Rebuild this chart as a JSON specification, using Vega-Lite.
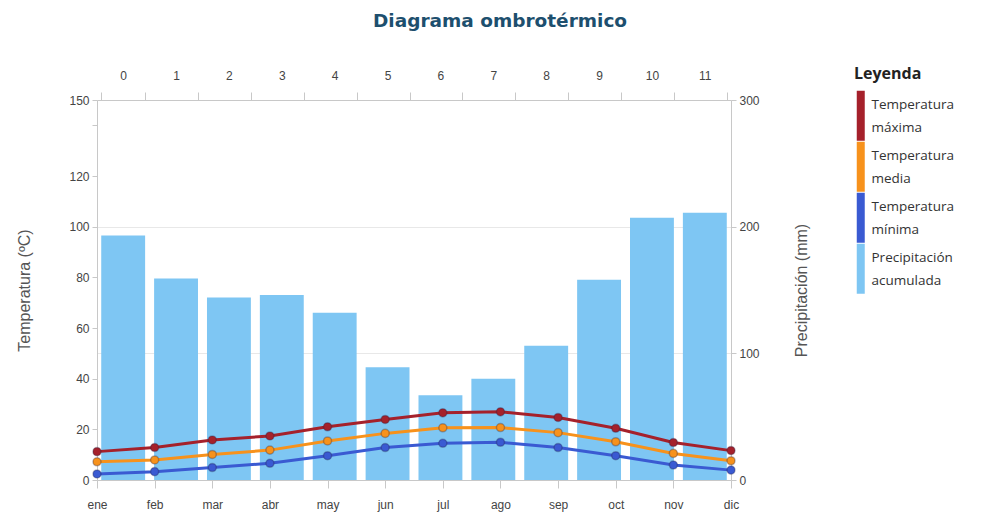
{
  "$schema": "https://vega.github.io/schema/vega-lite/v6.json",
  "autosize": {"type": "none"},
  "padding": {"left": 97, "top": 100, "right": 269, "bottom": 48},
  "width": 634,
  "height": 380,
  "background": "white",
  "title": {
    "text": "Diagrama ombrotérmico",
    "font": "DejaVu Sans",
    "fontSize": 18.5,
    "fontWeight": "bold",
    "color": "#1d4f6e",
    "anchor": "middle",
    "frame": "group",
    "dx": 86,
    "offset": 36
  },
  "datasets": {
    "prec": [
      {"idx": 0, "prec": 193},
      {"idx": 1, "prec": 159},
      {"idx": 2, "prec": 144},
      {"idx": 3, "prec": 146},
      {"idx": 4, "prec": 132},
      {"idx": 5, "prec": 89},
      {"idx": 6, "prec": 67},
      {"idx": 7, "prec": 80},
      {"idx": 8, "prec": 106},
      {"idx": 9, "prec": 158},
      {"idx": 10, "prec": 207},
      {"idx": 11, "prec": 211}
    ],
    "temps": [
      {"mes": "ene", "serie": "Temperatura máxima", "valor": 11.2},
      {"mes": "feb", "serie": "Temperatura máxima", "valor": 12.8},
      {"mes": "mar", "serie": "Temperatura máxima", "valor": 15.8},
      {"mes": "abr", "serie": "Temperatura máxima", "valor": 17.4},
      {"mes": "may", "serie": "Temperatura máxima", "valor": 21.0},
      {"mes": "jun", "serie": "Temperatura máxima", "valor": 23.9},
      {"mes": "jul", "serie": "Temperatura máxima", "valor": 26.5},
      {"mes": "ago", "serie": "Temperatura máxima", "valor": 26.9},
      {"mes": "sep", "serie": "Temperatura máxima", "valor": 24.7},
      {"mes": "oct", "serie": "Temperatura máxima", "valor": 20.4},
      {"mes": "nov", "serie": "Temperatura máxima", "valor": 14.8},
      {"mes": "dic", "serie": "Temperatura máxima", "valor": 11.6},
      {"mes": "ene", "serie": "Temperatura media", "valor": 7.2},
      {"mes": "feb", "serie": "Temperatura media", "valor": 7.9},
      {"mes": "mar", "serie": "Temperatura media", "valor": 10.1},
      {"mes": "abr", "serie": "Temperatura media", "valor": 11.8},
      {"mes": "may", "serie": "Temperatura media", "valor": 15.4},
      {"mes": "jun", "serie": "Temperatura media", "valor": 18.4},
      {"mes": "jul", "serie": "Temperatura media", "valor": 20.6},
      {"mes": "ago", "serie": "Temperatura media", "valor": 20.7},
      {"mes": "sep", "serie": "Temperatura media", "valor": 18.7},
      {"mes": "oct", "serie": "Temperatura media", "valor": 15.1},
      {"mes": "nov", "serie": "Temperatura media", "valor": 10.5},
      {"mes": "dic", "serie": "Temperatura media", "valor": 7.6},
      {"mes": "ene", "serie": "Temperatura mínima", "valor": 2.4},
      {"mes": "feb", "serie": "Temperatura mínima", "valor": 3.3},
      {"mes": "mar", "serie": "Temperatura mínima", "valor": 4.9},
      {"mes": "abr", "serie": "Temperatura mínima", "valor": 6.6},
      {"mes": "may", "serie": "Temperatura mínima", "valor": 9.6},
      {"mes": "jun", "serie": "Temperatura mínima", "valor": 12.8},
      {"mes": "jul", "serie": "Temperatura mínima", "valor": 14.5},
      {"mes": "ago", "serie": "Temperatura mínima", "valor": 14.9},
      {"mes": "sep", "serie": "Temperatura mínima", "valor": 12.8},
      {"mes": "oct", "serie": "Temperatura mínima", "valor": 9.6},
      {"mes": "nov", "serie": "Temperatura mínima", "valor": 5.9},
      {"mes": "dic", "serie": "Temperatura mínima", "valor": 3.9}
    ]
  },
  "config": {
    "view": {"stroke": null},
    "axis": {
      "labelFont": "Liberation Sans",
      "labelFontSize": 12,
      "labelColor": "#444444",
      "titleFont": "Liberation Sans",
      "titleFontSize": 16,
      "titleFontWeight": "normal",
      "titleColor": "#555555",
      "domainColor": "#c8c8c8",
      "tickColor": "#c8c8c8",
      "gridColor": "#e8e8e8"
    }
  },
  "layer": [
    {
      "data": {"name": "prec"},
      "mark": {"type": "bar"},
      "encoding": {
        "x": {
          "field": "idx",
          "type": "ordinal",
          "scale": {"paddingInner": 0.17, "paddingOuter": 0.08},
          "axis": {"orient": "top", "title": null, "labelAngle": 0, "tickBand": "extent", "tickSize": 8, "labelPadding": 10, "domain": true}
        },
        "y": {
          "field": "prec",
          "type": "quantitative",
          "scale": {"domain": [0, 300], "nice": false},
          "axis": {"orient": "right", "title": "Precipitación (mm)", "titleAngle": -90, "values": [0, 100, 200, 300], "grid": true, "tickSize": 5, "labelPadding": 3, "titlePadding": 50}
        },
        "color": {"datum": "Precipitación acumulada", "type": "nominal"}
      }
    },
    {
      "data": {"name": "temps"},
      "encoding": {
        "x": {
          "field": "mes",
          "type": "ordinal",
          "sort": ["ene", "feb", "mar", "abr", "may", "jun", "jul", "ago", "sep", "oct", "nov", "dic"],
          "scale": {"type": "point", "padding": 0},
          "axis": {"orient": "bottom", "title": null, "labelAngle": 0, "tickSize": 8, "labelPadding": 11}
        },
        "y": {
          "field": "valor",
          "type": "quantitative",
          "scale": {"domain": [0, 150], "nice": false},
          "axis": {"orient": "left", "title": "Temperatura (ºC)", "values": [0, 20, 40, 60, 80, 100, 120, 140, 150], "labelExpr": "datum.value == 140 ? '' : datum.label", "grid": false, "tickSize": 5, "labelPadding": 3, "titlePadding": 36}
        },
        "color": {
          "field": "serie",
          "type": "nominal",
          "scale": {
            "domain": ["Temperatura máxima", "Temperatura media", "Temperatura mínima", "Precipitación acumulada"],
            "range": ["#a5212b", "#f7921c", "#3a5ad2", "#7ec6f3"]
          },
          "legend": {
            "title": "Leyenda",
            "orient": "none",
            "legendX": 757,
            "legendY": -34,
            "titleFont": "Open Sans",
            "titleFontSize": 16,
            "titleFontWeight": "bold",
            "titleColor": "#222222",
            "titlePadding": 27,
            "labelFont": "Open Sans",
            "labelFontSize": 13.5,
            "labelColor": "#333333",
            "labelOffset": 4,
            "labelExpr": "split(datum.label, ' ')",
            "symbolType": "M-0.8,-5H0.8V5H-0.8Z",
            "symbolSize": 100,
            "symbolStrokeWidth": 0,
            "rowPadding": 0,
            "encode": {
              "symbols": {"update": {"fill": {"scale": "color", "field": "value"}, "stroke": {"value": "transparent"}, "fillOpacity": {"value": 1}}},
              "labels": {"update": {"lineHeight": {"value": 23}, "dy": {"value": -11}}}
            }
          }
        }
      },
      "layer": [
        {"mark": {"type": "line", "strokeWidth": 3}},
        {"mark": {"type": "point", "filled": true, "size": 65, "opacity": 1, "stroke": "#222244", "strokeOpacity": 0.3, "strokeWidth": 1.5}}
      ]
    }
  ],
  "resolve": {"scale": {"x": "independent", "y": "independent"}}
}
